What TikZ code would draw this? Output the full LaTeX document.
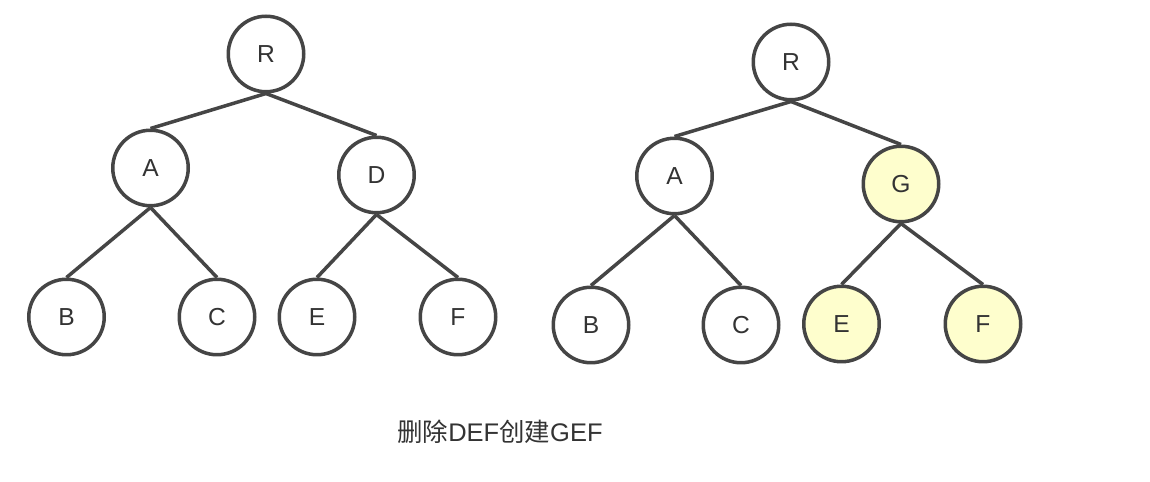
\documentclass[tikz,border=0pt]{standalone}
\usepackage{fontspec}
\setmainfont{Liberation Sans}
\newfontfamily\cjkfont{Noto Sans CJK SC}
\usepackage{xcolor}
\usepackage{tikz}
\definecolor{trline}{HTML}{454545}
\definecolor{trtext}{HTML}{333333}
\definecolor{trfill}{HTML}{FEFECD}
\tikzset{
trnode/.style={circle,draw=trline,fill=white,line width=2pt,minimum size=1.51cm,inner sep=0pt,text=trtext,font=\fontsize{14}{16}\selectfont},
trnew/.style={trnode,fill=trfill},
tredge/.style={draw=trline,line width=2pt},
trcaption/.style={text=trtext,inner sep=0pt,font=\fontsize{14.5}{17}\selectfont}
}
\begin{document}
\begin{tikzpicture}[
x=0.02cm,
y=-0.02cm
]
\useasboundingbox (0,0) rectangle (1150,482);
% before
\node[trnode] (lroot) at (266,54) {R};
\node[trnode] (la) at (150.5,168) {A};
\node[trnode] (ld) at (376.5,175) {D};
\node[trnode] (lb) at (66.5,317) {B};
\node[trnode] (lc) at (217,317) {C};
\node[trnode] (le) at (317,317) {E};
\node[trnode] (lf) at (458,317) {F};
% after
\node[trnode] (rroot) at (791,62) {R};
\node[trnode] (ra) at (674.5,176) {A};
\node[trnew] (rg) at (901,184) {G};
\node[trnode] (rb) at (591,325) {B};
\node[trnode] (rc) at (741,325) {C};
\node[trnew] (re) at (841.5,324) {E};
\node[trnew] (rf) at (983,324) {F};
\node[trcaption] (caption) at (500,432) {{\cjkfont 删除}DEF{\cjkfont 创建}GEF};
\draw[tredge] (lroot.south)--(la.north);
\draw[tredge] (lroot.south)--(ld.north);
\draw[tredge] (la.south)--(lb.north);
\draw[tredge] (la.south)--(lc.north);
\draw[tredge] (ld.south)--(le.north);
\draw[tredge] (ld.south)--(lf.north);
\draw[tredge] (rroot.south)--(ra.north);
\draw[tredge] (rroot.south)--(rg.north);
\draw[tredge] (ra.south)--(rb.north);
\draw[tredge] (ra.south)--(rc.north);
\draw[tredge] (rg.south)--(re.north);
\draw[tredge] (rg.south)--(rf.north);
\end{tikzpicture}
\end{document}
